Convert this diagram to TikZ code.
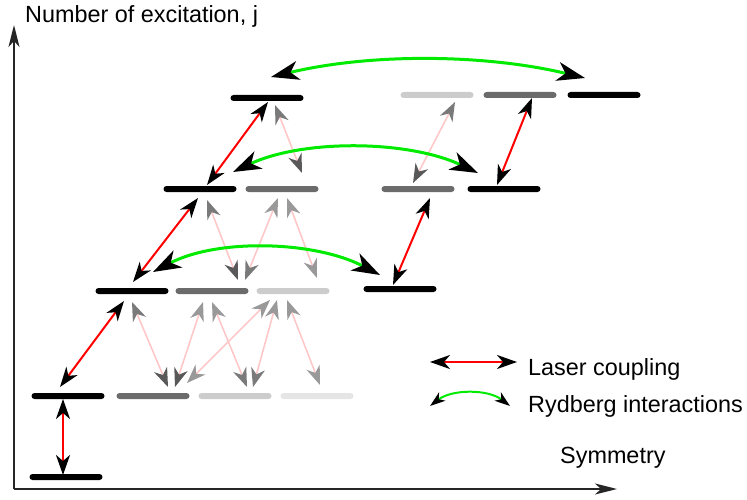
\documentclass[tikz,border=0pt]{standalone}
\usepackage{fontspec}
\setmainfont{Liberation Sans}
\usetikzlibrary{arrows.meta}

\definecolor{lvldark}{gray}{0.42}
\definecolor{lvllight}{gray}{0.8}
\definecolor{lvlfaint}{gray}{0.9}
\definecolor{rydgreen}{RGB}{0,235,0}
\definecolor{weakred}{RGB}{255,200,200}
\colorlet{headdark}{black!65}
\colorlet{headmid}{black!52}
\colorlet{headlight}{black!40}

\begin{document}
\begin{tikzpicture}[x=1pt, y=-1pt,
  lvl/.style={fill=#1, rounded corners=3pt, minimum width=73pt, minimum height=6pt, inner sep=0pt},
  axis/.style={-{Stealth[length=22pt,width=11pt,inset=6pt]}, line width=1.8pt, black!85},
  laser/.style={{Stealth[length=20pt,width=14pt,inset=6pt,color=black]}-{Stealth[length=20pt,width=14pt,inset=6pt,color=black]}, red, line width=2pt},
  weak/.style 2 args={{Stealth[length=19pt,width=14pt,inset=6pt,color=#1]}-{Stealth[length=19pt,width=14pt,inset=6pt,color=#2]}, weakred, line width=1.6pt},
  ryd/.style={{Stealth[length=28pt,width=19pt,inset=8pt,color=black,scale=#1]}-{Stealth[length=28pt,width=19pt,inset=8pt,color=black,scale=#1]}, rydgreen, line width=3pt},
  ryd/.default=1,
  lbl/.style={font=\fontsize{23.4}{28}\selectfont, anchor=base west, inner sep=0pt}
]
\useasboundingbox (0,0) rectangle (747,500);

\coordinate (origin) at (14,489);
\coordinate (ytop) at (14,25);
\coordinate (xend) at (617,489);
\draw[axis] (origin) -- (ytop);
\draw[axis] (origin) -- (xend);
\node[lbl] (ylbl) at (25,23) {Number of excitation, j};
\node[lbl] (symlbl) at (560,463) {Symmetry};

\node[lvl=black] (g0) at (66,477) {};
\node[lvl=black] (l1a) at (68,396) {};
\node[lvl=lvldark] (l1b) at (153,396) {};
\node[lvl=lvllight] (l1c) at (235,396) {};
\node[lvl=lvlfaint] (l1d) at (317,396) {};
\node[lvl=black] (l2a) at (132,291) {};
\node[lvl=lvldark] (l2b) at (212,291) {};
\node[lvl=lvllight] (l2c) at (293,291) {};
\node[lvl=black] (l2r) at (400,289) {};
\node[lvl=black] (l3a) at (200,189) {};
\node[lvl=lvldark] (l3b) at (282,189) {};
\node[lvl=lvldark] (l3r1) at (418,189) {};
\node[lvl=black] (l3r2) at (504,189) {};
\node[lvl=black] (l4a) at (267,98) {};
\node[lvl=lvllight] (l4r1) at (437,95) {};
\node[lvl=lvldark] (l4r2) at (520,95) {};
\node[lvl=black] (l4r3) at (604,95) {};

\draw[weak={headmid}{headdark}] ([shift={(8,7)}]l4a.center) -- ([shift={(20,-16)}]l3b.center);
\draw[weak={headmid}{headdark}] ([shift={(18,7)}]l4r1.center) -- ([shift={(-5,-6)}]l3r1.center);
\draw[weak={headmid}{headdark}] ([shift={(7,11)}]l3a.center) -- ([shift={(26,-11)}]l2b.center);
\draw[weak={headmid}{headlight}] ([shift={(33,-11)}]l2b.center) -- ([shift={(-4,9)}]l3b.center);
\draw[weak={headlight}{headlight}] ([shift={(5,9)}]l3b.center) -- ([shift={(24,-13)}]l2c.center);
\draw[weak={headmid}{headdark}] ([shift={(0,11)}]l2a.center) -- ([shift={(15,-9)}]l1b.center);
\draw[weak={headdark}{headlight}] ([shift={(22,-9)}]l1b.center) -- ([shift={(-9,11)}]l2b.center);
\draw[weak={headlight}{headmid}] ([shift={(0,11)}]l2b.center) -- ([shift={(12,-9)}]l1c.center);
\draw[weak={headlight}{headlight}] ([shift={(34,-13)}]l1b.center) -- ([shift={(-23,9)}]l2c.center);
\draw[weak={headmid}{headlight}] ([shift={(18,-9)}]l1c.center) -- ([shift={(-16,9)}]l2c.center);
\draw[weak={headlight}{headlight}] ([shift={(-6,9)}]l2c.center) -- ([shift={(3,-11)}]l1d.center);

\draw[laser] ([shift={(-3,-2)}]g0.center) -- ([shift={(-5,3)}]l1a.center);
\draw[laser] ([shift={(-8,-9)}]l1a.center) -- ([shift={(-8,10)}]l2a.center);
\draw[laser] ([shift={(1,-9)}]l2a.center) -- ([shift={(-2,9)}]l3a.center);
\draw[laser] ([shift={(7,-4)}]l3a.center) -- ([shift={(1,4)}]l4a.center);
\draw[laser] ([shift={(-7,-4)}]l2r.center) -- ([shift={(12,9)}]l3r1.center);
\draw[laser] ([shift={(-7,-4)}]l3r2.center) -- ([shift={(12,3)}]l4r2.center);

\draw[ryd] ([shift={(21,-19)}]l2a.center) .. controls +(65,-34) and +(-65,-34) .. ([shift={(-20,-14)}]l2r.center);
\draw[ryd] ([shift={(33,-17)}]l3a.center) .. controls +(70,-33) and +(-70,-33) .. ([shift={(-26,-16)}]l3r2.center);
\draw[ryd] ([shift={(4,-21)}]l4a.center) .. controls +(100,-24) and +(-100,-24) .. ([shift={(-19,-17)}]l4r3.center);

\coordinate (laserL) at (430,362);
\coordinate (laserR) at (517,362);
\coordinate (rydL) at (430,406);
\coordinate (rydR) at (510,406);
\draw[laser] (laserL) -- (laserR);
\draw[ryd=0.55, line width=2pt] (rydL) .. controls +(22,-17) and +(-22,-17) .. (rydR);
\node[lbl] (laserlbl) at (528,375) {Laser coupling};
\node[lbl] (rydlbl) at (528,412) {Rydberg interactions};
\end{tikzpicture}
\end{document}
